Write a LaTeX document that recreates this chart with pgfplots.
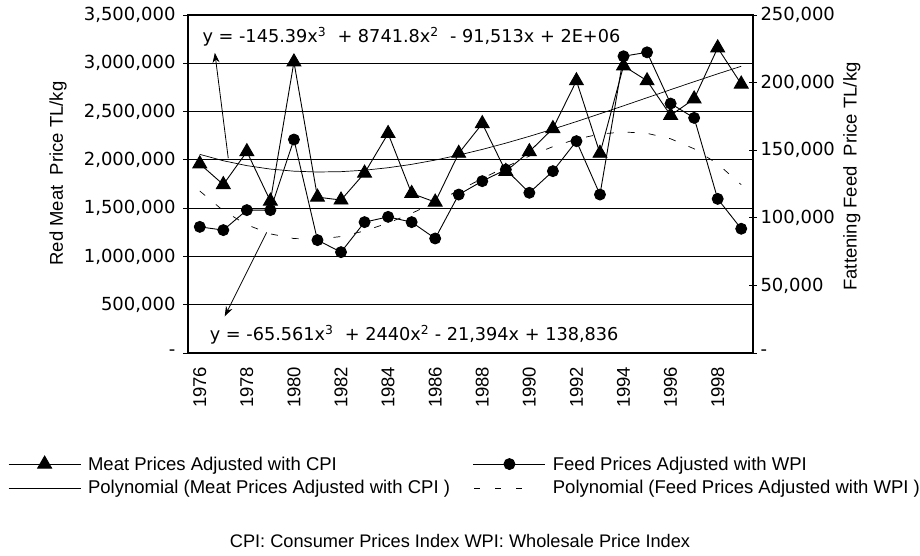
\documentclass[border=0pt]{standalone}
\usepackage{pgfplots}
\pgfplotsset{compat=1.18}
\usepackage{pgfplotstable}
\usepackage{fontspec}
\setmainfont{Liberation Sans}
\newfontfamily\numfont{DejaVu Sans}
\usetikzlibrary{arrows.meta}

\pgfplotstableread{
year meat feed
1976 1959000 93300
1977 1744000 90900
1978 2085000 105700
1979 1573000 105700
1980 3014000 157900
1981 1614000 83500
1982 1584000 74600
1983 1863000 96800
1984 2273000 100700
1985 1652000 96800
1986 1563000 84700
1987 2068000 117200
1988 2375000 127100
1989 1881000 135700
1990 2085000 118500
1991 2324000 134500
1992 2819000 156700
1993 2068000 117200
1994 2973000 219500
1995 2819000 222400
1996 2461000 184500
1997 2631000 173900
1998 3160000 114000
1999 2785000 91900
}\datatable

\pgfplotstableread{
year meattrend feedtrend
1976 2057083 119816
1977 1990778 105283
1978 1940212 94844
1979 1904512 88104
1980 1882806 84671
1981 1874223 84151
1982 1877888 86151
1983 1892931 90277
1984 1918480 96136
1985 1953660 103335
1986 1997601 111480
1987 2049429 120179
1988 2108273 129036
1989 2173262 137661
1990 2243519 145658
1991 2318175 152634
1992 2396358 158197
1993 2477196 161952
1994 2559813 163507
1995 2643340 162468
1996 2726904 158441
1997 2809632 151034
1998 2890653 139853
1999 2969094 124505
}\trendtable

\newcommand{\tf}{\fontsize{18.5}{21}\selectfont}
\newcommand{\lf}{\fontsize{18.5}{22}\selectfont}
\newcommand{\cf}{\fontsize{18.2}{22}\selectfont}
\newcommand{\nf}{\numfont\fontsize{18}{21}\selectfont}
\newcommand{\ef}{\numfont\fontsize{17.7}{21}\selectfont}

\pgfplotsset{
  base/.style={
    scale only axis, width=565pt, height=338pt,
    xmin=1975.5, xmax=1999.5,
    axis line style={line width=1.2pt},
    scaled y ticks=false,
  },
  legend image code/.code={%
    \draw[mark repeat=2,mark phase=2,#1] plot coordinates {(0pt,0pt) (36pt,0pt) (72pt,0pt)};},
  dashlegend/.style={legend image code/.code={%
    \draw[##1, dash pattern=on 6pt off 15pt] (1pt,0pt) -- (50pt,0pt);}},
}

\begin{document}
\begin{tikzpicture}
\begin{axis}[base, name=ax, clip=false,
  ymin=0, ymax=3500000,
  ytick={0,500000,...,3500000},
  yticklabels={-,{500,000},{1,000,000},{1,500,000},{2,000,000},{2,500,000},{3,000,000},{3,500,000}},
  yticklabel style={font=\nf, xshift=-4pt},
  ytick pos=left, ytick align=outside, major tick length=5pt,
  ymajorgrids, grid style={black, line width=0.8pt},
  xtick={1976,1978,...,1998},
  xticklabels={1976,1978,1980,1982,1984,1986,1988,1990,1992,1994,1996,1998},
  xtick pos=bottom, x tick style={draw=none},
  minor xtick={1975.5,1976.5,...,1999.5},
  minor x tick style={black, line width=0.8pt},
  minor tick length=10pt, xtick align=center,
  xticklabel style={font=\tf, rotate=90, anchor=east, inner sep=1pt},
  xticklabel shift=10pt,
  y tick style={black, line width=0.8pt},
]
\addplot[black, line width=0.7pt] table[x=year, y=meattrend] {\trendtable};
\addplot[black, line width=0.9pt, mark=triangle*, mark size=8pt, mark options={solid}] table[x=year, y=meat] {\datatable};
\node[anchor=west, font=\ef, inner sep=0pt] at (axis cs:1976.11,3273000) {y = -145.39x\textsuperscript{3}\ \ + 8741.8x\textsuperscript{2}\ \ - 91,513x + 2E+06};
\node[anchor=west, font=\ef, inner sep=0pt] at (axis cs:1976.42,191000) {y = -65.561x\textsuperscript{3}\ \ + 2440x\textsuperscript{2} - 21,394x + 138,836};
\draw[line width=0.8pt, -{Stealth[length=10pt,width=7pt]}] (axis cs:1977.21,2017000) -- (axis cs:1976.64,3109000);
\draw[line width=0.8pt, -{Stealth[length=10pt,width=7pt]}] (axis cs:1978.84,1249000) -- (axis cs:1977.06,379000);
\node[rotate=90, font=\tf] at (axis description cs:-0.230,0.531) {Red Meat\ \ Price TL/kg};
\node[rotate=90, font=\tf] at (axis description cs:1.175,0.522) {Fattening Feed\ \ Price TL/kg};
\node[font=\cf] at (axis description cs:0.4814,-0.556) {CPI: Consumer Prices Index WPI: Wholesale Price Index};
\end{axis}

\begin{axis}[base,
  axis x line=none, axis y line*=right,
  ymin=0, ymax=250000,
  ytick={0,50000,...,250000},
  yticklabels={-,{50,000},{100,000},{150,000},{200,000},{250,000}},
  yticklabel style={font=\nf},
  ytick align=center, major tick length=8pt,
  y tick style={black, line width=0.8pt},
  legend columns=2,
  legend style={draw=none, fill=none, font=\lf, at={(-0.3186,-0.300)}, anchor=north west,
    inner sep=0pt, row sep=5pt, cells={anchor=west},
    /tikz/every odd column/.append style={column sep=5pt},
    /tikz/every even column/.append style={column sep=21pt}},
]
\addlegendimage{black, line width=0.9pt, mark=triangle*, mark size=8pt}
\addlegendentry{Meat Prices Adjusted with CPI}
\addplot[black, line width=0.9pt, mark=*, mark size=5.5pt] table[x=year, y=feed] {\datatable};
\addlegendentry{Feed Prices Adjusted with WPI}
\addlegendimage{black, line width=0.7pt}
\addlegendentry{Polynomial (Meat Prices Adjusted with CPI )}
\addplot[black, line width=0.7pt, dash pattern=on 7pt off 14pt, dashlegend] table[x=year, y=feedtrend] {\trendtable};
\addlegendentry{Polynomial (Feed Prices Adjusted with WPI )}
\end{axis}
\pgfresetboundingbox
\path[use as bounding box] ([xshift=-188pt,yshift=-202pt]ax.south west) rectangle ([xshift=167pt,yshift=15pt]ax.north east);
\end{tikzpicture}
\end{document}
